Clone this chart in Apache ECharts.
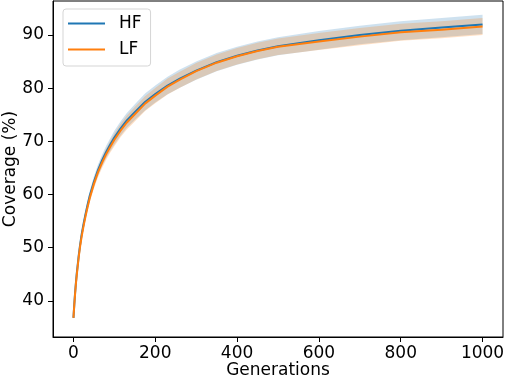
<!DOCTYPE html>
<html>
<head>
<meta charset="utf-8">
<script src="https://cdn.jsdelivr.net/npm/echarts@6/dist/echarts.min.js"></script>
<style>
html,body{margin:0;padding:0;background:#fff;}
#chart{width:505px;height:381px;}
</style>
</head>
<body>
<div id="chart"></div>
<script>
const generations = [0, 2, 4, 6, 8, 10, 13, 16, 20, 25, 30, 35, 40, 50, 60, 70, 80, 90, 100, 115, 130, 150, 175, 200, 230, 260, 300, 350, 400, 450, 500, 600, 700, 800, 900, 1000];
const hfMean = [36.8, 39.3, 41.5, 43.4, 45.1, 46.5, 48.6, 50.4, 52.5, 54.6, 56.5, 58.2, 59.8, 62.4, 64.6, 66.4, 68.0, 69.4, 70.7, 72.4, 73.9, 75.5, 77.4, 78.9, 80.5, 81.8, 83.3, 84.9, 86.1, 87.1, 87.9, 89.0, 90.0, 90.8, 91.4, 92.0];
const lfMean = [36.8, 39.2, 41.3, 43.2, 44.8, 46.2, 48.3, 50.1, 52.1, 54.2, 56.1, 57.8, 59.4, 62.0, 64.2, 66.0, 67.6, 69.0, 70.3, 72.0, 73.5, 75.1, 77.1, 78.6, 80.3, 81.6, 83.2, 84.8, 86.0, 87.0, 87.8, 88.8, 89.7, 90.5, 91.0, 91.6];
const hfStd = [0.3, 0.35, 0.4, 0.45, 0.5, 0.5, 0.55, 0.6, 0.7, 0.75, 0.8, 0.85, 0.9, 1.0, 1.05, 1.1, 1.15, 1.2, 1.3, 1.35, 1.4, 1.5, 1.6, 1.6, 1.65, 1.7, 1.7, 1.7, 1.7, 1.7, 1.7, 1.75, 1.75, 1.8, 1.8, 1.8];
const lfStd = [0.3, 0.3, 0.35, 0.4, 0.45, 0.45, 0.5, 0.55, 0.6, 0.65, 0.7, 0.75, 0.8, 0.9, 0.95, 1.0, 1.05, 1.1, 1.2, 1.25, 1.3, 1.35, 1.4, 1.45, 1.5, 1.5, 1.55, 1.55, 1.55, 1.55, 1.55, 1.6, 1.6, 1.6, 1.6, 1.6];
const xTicks = [0, 200, 400, 600, 800, 1000];
const yTicks = [40, 50, 60, 70, 80, 90];
const seriesNames = ['HF', 'LF'];

const HF_COLOR = '#1f77b4';
const LF_COLOR = '#ff7f0e';
const FONT = 'DejaVu Sans';
const FS = 17;

function pairs(arr) { return generations.map((g, i) => [g, arr[i]]); }

function bandSeries(mean, std, color) {
  return {
    type: 'custom', data: [[0, 40]], silent: true, z: 1, clip: true,
    renderItem: function (params, api) {
      const up = generations.map((g, i) => api.coord([g, mean[i] + std[i]]));
      const lo = generations.map((g, i) => api.coord([g, mean[i] - std[i]])).reverse();
      return { type: 'polygon', shape: { points: up.concat(lo) }, style: { fill: color, stroke: null } };
    }
  };
}

const chart = echarts.init(document.getElementById('chart'), null, { renderer: 'canvas' });
chart.setOption({
  animation: false,
  backgroundColor: '#fff',
  textStyle: { fontFamily: FONT },
  grid: { left: 53, right: 2, top: 1, bottom: 44, containLabel: false, outerBoundsMode: 'none',
          show: true, borderColor: '#000', borderWidth: 1, backgroundColor: 'transparent' },
  legend: {
    data: [{ name: seriesNames[0], icon: 'rect' }, { name: seriesNames[1], icon: 'rect' }],
    orient: 'vertical', left: 63, top: 9,
    itemWidth: 37, itemHeight: 2, itemGap: 9,
    padding: [6, 9, 8, 5],
    backgroundColor: '#fff', borderColor: '#d5d5d5', borderWidth: 1, borderRadius: 3,
    textStyle: { fontFamily: FONT, fontSize: FS, color: '#000', padding: [0, 0, 0, 9], lineHeight: 17 }
  },
  xAxis: {
    type: 'value', min: -50, max: 1050,
    name: 'Generations', nameLocation: 'middle', nameGap: 25, nameMoveOverlap: false,
    nameTextStyle: { fontFamily: FONT, fontSize: FS, color: '#000' },
    splitLine: { show: false },
    axisLine: { show: true, onZero: false, lineStyle: { color: '#000', width: 1 } },
    axisTick: { show: true, inside: false, length: 5, lineStyle: { color: '#000' }, customValues: xTicks },
    axisLabel: { fontFamily: FONT, fontSize: FS, color: '#000', margin: 8, customValues: xTicks,
                 formatter: v => String(v) }
  },
  yAxis: {
    type: 'value', min: 33.2, max: 96.4,
    name: 'Coverage (%)', nameLocation: 'middle', nameGap: 34, nameMoveOverlap: false,
    nameTextStyle: { fontFamily: FONT, fontSize: FS, color: '#000' },
    splitLine: { show: false },
    axisLine: { show: true, onZero: false, lineStyle: { color: '#000', width: 1 } },
    axisTick: { show: true, inside: false, length: 5, lineStyle: { color: '#000' }, customValues: yTicks },
    axisLabel: { fontFamily: FONT, fontSize: FS, color: '#000', margin: 9, customValues: yTicks,
                 formatter: v => String(v) }
  },
  series: [
    bandSeries(hfMean, hfStd, 'rgba(31,119,180,0.22)'),
    bandSeries(lfMean, lfStd, 'rgba(255,127,14,0.24)'),
    {
      name: seriesNames[0], type: 'line', data: pairs(hfMean), symbol: 'none', smooth: false,
      color: HF_COLOR, itemStyle: { color: HF_COLOR }, lineStyle: { color: HF_COLOR, width: 2 }, z: 3
    },
    {
      name: seriesNames[1], type: 'line', data: pairs(lfMean), symbol: 'none', smooth: false,
      color: LF_COLOR, itemStyle: { color: LF_COLOR }, lineStyle: { color: LF_COLOR, width: 2 }, z: 4
    }
  ]
});
</script>
</body>
</html>
